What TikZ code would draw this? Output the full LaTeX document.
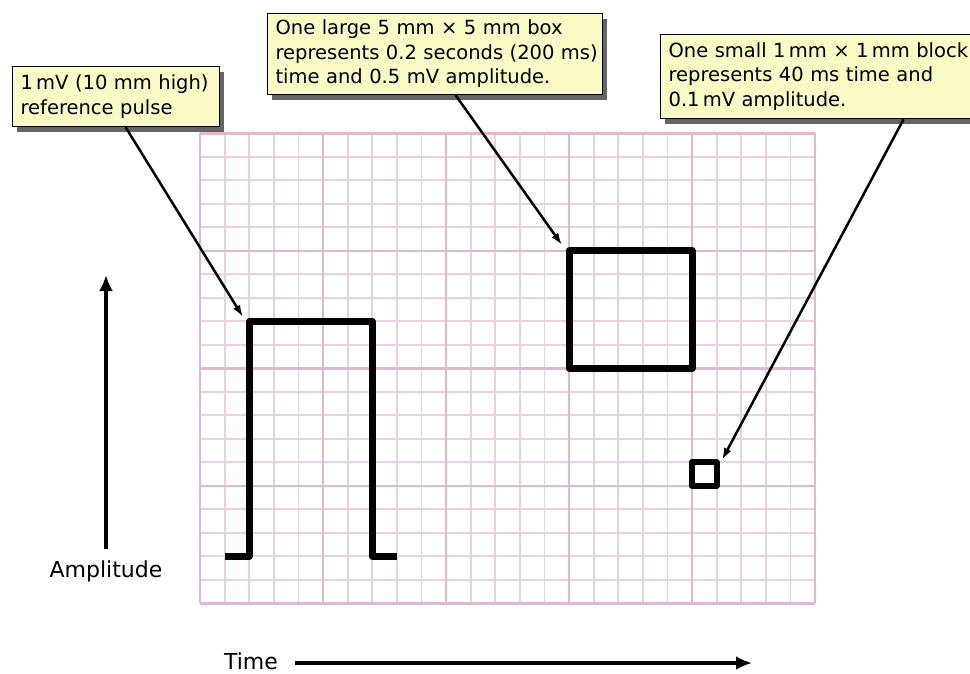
\documentclass[tikz,border=0pt]{standalone}
\usepackage{fontspec}
\setmainfont{DejaVu Sans}
\usetikzlibrary{arrows.meta,shadows}

\definecolor{minorpink}{RGB}{236,208,224}
\definecolor{majorpink}{RGB}{226,184,208}
\definecolor{noteyellow}{RGB}{250,250,198}

\tikzset{
  note/.style={draw=black, line width=1.2pt, fill=noteyellow, anchor=north west,
    align=left, inner xsep=8pt, inner ysep=0pt,
    font=\fontsize{19.5}{24.5}\selectfont,
    drop shadow={shadow xshift=4pt, shadow yshift=-5pt, fill=black!60, opacity=1}},
  pointer/.style={line width=2.5pt, -{Latex[length=12pt,width=8pt]}},
  trace/.style={line width=7pt, line join=round},
  axisarrow/.style={line width=4.5pt, -{Latex[length=16pt,width=14pt]}},
  axislabel/.style={font=\fontsize{22}{26}\selectfont}
}

\begin{document}
\begin{tikzpicture}[x=1pt,y=-1pt]
\useasboundingbox (0,0) rectangle (970,673);
% grid paper
\foreach \i in {0,...,25}
  \draw[minorpink, line width=1.8pt] ({200+24.6*\i},133.3) -- ({200+24.6*\i},603.3);
\foreach \j in {0,...,20}
  \draw[minorpink, line width=1.8pt] (200,{133.3+23.5*\j}) -- (815,{133.3+23.5*\j});
\foreach \i in {0,5,...,25}
  \draw[majorpink, line width=2.6pt] ({200+24.6*\i},133.3) -- ({200+24.6*\i},603.3);
\foreach \j in {0,5,...,20}
  \draw[majorpink, line width=2.6pt] (200,{133.3+23.5*\j}) -- (815,{133.3+23.5*\j});
% pulse, large box, small block
\draw[trace] (224.6,556.3) -- (249.2,556.3) -- (249.2,321.3) -- (372.2,321.3) -- (372.2,556.3) -- (396.8,556.3);
\draw[trace] (569,250.8) rectangle (692,368.3);
\draw[trace, line width=6pt] (692,462.3) rectangle (716.6,485.8);
\coordinate (pulsetop) at (243,317);
\coordinate (bigbox) at (562,245);
\coordinate (smallbox) at (722,460);
% notes
\node (ref) at (12,66) [note, text width=191pt, minimum height=60pt] {\mbox{1\,mV (10 mm high)}\\\mbox{reference pulse}};
\node (large) at (267,13) [note, text width=319pt, minimum height=81pt] {\mbox{One large 5 mm × 5 mm box}\\\mbox{represents 0.2 seconds (200 ms)}\\\mbox{time and 0.5 mV amplitude.}};
\node (small) at (660,34) [note, text width=314pt, minimum height=84pt] {\mbox{One small 1\,mm × 1\,mm block}\\\mbox{represents 40 ms time and}\\\mbox{0.1\,mV amplitude.}};
\draw[pointer] ([xshift=9.5pt]ref.south) -- (pulsetop);
\draw[pointer] ([xshift=20.5pt]large.south) -- (bigbox);
\draw[pointer] ([xshift=78pt]small.south) -- (smallbox);
% axes
\node (amp) at (106,571) [axislabel] {Amplitude};
\coordinate (amptop) at (106,275);
\draw[axisarrow] ([yshift=8pt]amp.north) -- (amptop);
\node (time) at (251,661) [axislabel] {Time};
\coordinate (timeend) at (752,663);
\draw[axisarrow] ([xshift=14pt]time.east |- timeend) -- (timeend);
\end{tikzpicture}
\end{document}
